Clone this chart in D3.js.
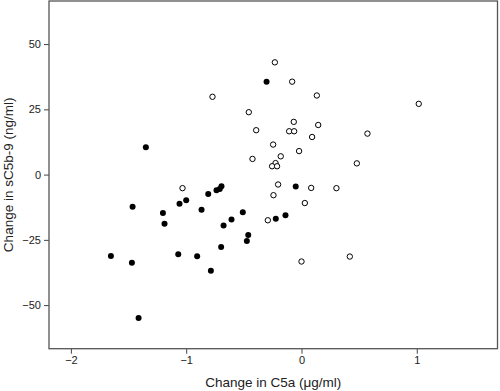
<!DOCTYPE html>
<html><head><meta charset="utf-8">
<script src="https://cdn.jsdelivr.net/npm/d3@7"></script>
<style>body{margin:0;background:#fff}svg{display:block}</style>
</head><body>
<script>
const xTicks = [-2, -1, 0, 1];
const yTicks = [-50, -25, 0, 25, 50];
const xLabel = "Change in C5a (μg/ml)";
const yLabel = "Change in sC5b-9 (ng/ml)";

// filled markers
const filledX = [-0.303, -1.35, -0.05, -0.694, -0.709, -0.737, -0.809, -1.0, -1.058, -1.465, -1.202, -0.867, -0.509, -0.139, -0.223, -0.607, -1.188, -0.676, -0.462, -0.474, -0.697, -1.069, -0.905, -1.653, -1.471, -0.786, -1.413];
const filledY = [35.6, 10.5, -4.6, -4.5, -5.5, -6.0, -7.4, -9.8, -11.2, -12.3, -14.7, -13.5, -14.4, -15.6, -16.9, -17.2, -18.8, -19.5, -23.1, -25.4, -27.7, -30.5, -31.3, -31.2, -33.8, -36.8, -54.9];

// open markers
const openX = [-0.231, -0.081, -0.772, 0.133, 1.017, -0.457, -0.067, 0.145, -0.393, -0.107, -0.064, 0.572, 0.092, -0.246, -0.021, -0.18, -0.425, -0.225, 0.480, -0.255, -0.212, -1.032, -0.203, 0.084, 0.303, -0.243, 0.029, -0.292, 0.419, 0.0];
const openY = [43.0, 35.6, 29.8, 30.3, 27.1, 23.9, 20.2, 19.0, 17.0, 16.6, 16.6, 15.7, 14.4, 11.5, 9.0, 7.0, 6.0, 4.4, 4.3, 3.2, 3.2, -5.2, -3.8, -5.1, -5.2, -7.9, -10.9, -17.5, -31.4, -33.3];

const W = 500, H = 391;
const L = 49, R = 497.5, T = 1, B = 348.7;
const svg = d3.select("body").append("svg").attr("width", W).attr("height", H)
  .style("font-family", "Arial, 'Liberation Sans', sans-serif");

const x = d3.scaleLinear().domain([-2.19, 1.70]).range([L, R]);
const y = d3.scaleLinear().domain([-66.7, 66.5]).range([B, T]);

const txtCol = "#222";
const xAxis = svg.append("g").attr("transform", `translate(0,${B})`)
  .call(d3.axisBottom(x).tickValues(xTicks).tickSize(5).tickPadding(3).tickFormat(d => d < 0 ? "\u2212" + Math.abs(d) : d));
const yAxis = svg.append("g").attr("transform", `translate(${L},0)`)
  .call(d3.axisLeft(y).tickValues(yTicks).tickSize(5).tickPadding(3).tickFormat(d => d < 0 ? "\u2212" + Math.abs(d) : d));
[xAxis, yAxis].forEach(g => {
  g.select(".domain").remove();
  g.selectAll("line").attr("stroke", "#444").attr("stroke-width", 1);
  g.selectAll("text").attr("fill", txtCol).style("font-size", "11px").style("font-family", "Arial, 'Liberation Sans', sans-serif");
});

svg.append("rect").attr("x", L).attr("y", T).attr("width", R - L).attr("height", B - T)
  .attr("fill", "none").attr("stroke", "#555").attr("stroke-width", 1.3);

svg.append("g").selectAll("circle").data(filledX.map((v, i) => [v, filledY[i]])).join("circle")
  .attr("cx", d => x(d[0])).attr("cy", d => y(d[1])).attr("r", 3).attr("fill", "#000");
svg.append("g").selectAll("circle").data(openX.map((v, i) => [v, openY[i]])).join("circle")
  .attr("cx", d => x(d[0])).attr("cy", d => y(d[1])).attr("r", 2.7).attr("fill", "#fff")
  .attr("stroke", "#000").attr("stroke-width", 1);

svg.append("text").attr("x", (L + R) / 2).attr("y", 387).attr("text-anchor", "middle")
  .attr("fill", txtCol).style("font-size", "13.5px").text(xLabel);
svg.append("text").attr("transform", `translate(13,${(T + B) / 2}) rotate(-90)`).attr("text-anchor", "middle")
  .attr("fill", txtCol).style("font-size", "13.5px").text(yLabel);
</script>
</body></html>
